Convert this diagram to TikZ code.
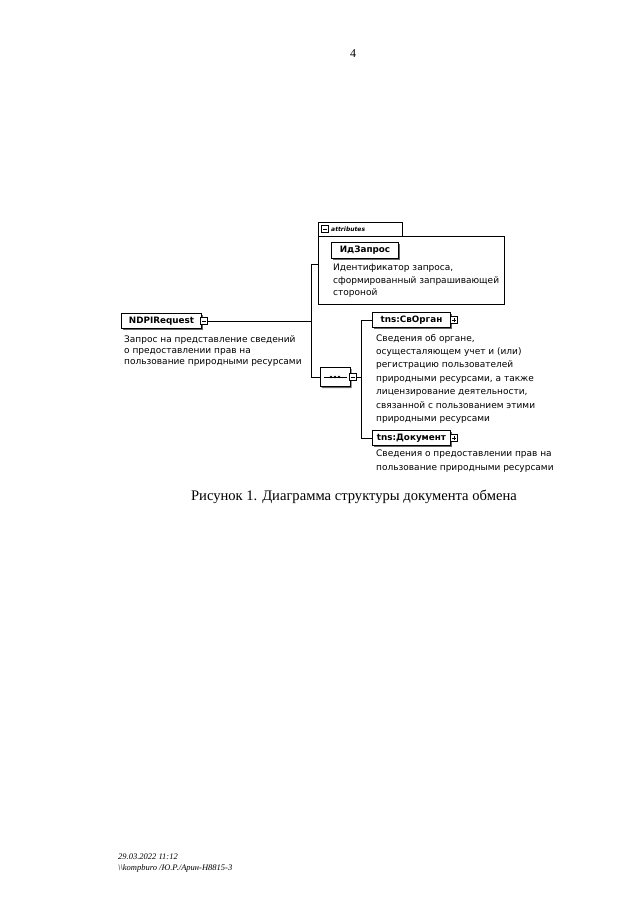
\documentclass[tikz,border=0pt]{standalone}
\usepackage{fontspec}
\setmainfont{Liberation Serif}
\newfontfamily\diag{DejaVu Sans}
\usetikzlibrary{shadows,shapes.misc}
\begin{document}
\begin{tikzpicture}[x=1pt,y=-1pt,
  conn/.style={line width=0.9pt},
  elem/.style={draw, line width=1pt, fill=white, font=\diag\bfseries\fontsize{8.8}{10}\selectfont,
    inner xsep=2pt, minimum height=15pt, anchor=west,
    drop shadow={shadow xshift=1.6pt, shadow yshift=-1.6pt, fill=black!60, opacity=1}},
  pm/.style={draw, fill=white, minimum size=7pt, inner sep=0pt, line width=0.7pt},
  pmminus/.style={pm, path picture={\draw[line width=0.7pt] ([xshift=1.3pt]path picture bounding box.west) -- ([xshift=-1.3pt]path picture bounding box.east);}},
  pmplus/.style={pm, path picture={\draw[line width=0.7pt] ([xshift=1.3pt]path picture bounding box.west) -- ([xshift=-1.3pt]path picture bounding box.east) ([yshift=-1.3pt]path picture bounding box.north) -- ([yshift=1.3pt]path picture bounding box.south);}},
  desc/.style={anchor=north west, inner sep=0pt, align=left, font=\diag\fontsize{9}{13.4}\selectfont},
  descl/.style={desc, font=\diag\fontsize{9}{11.2}\selectfont},
  desca/.style={desc, font=\diag\fontsize{9}{12.4}\selectfont},
  box/.style={draw, line width=0.9pt, anchor=north west, inner sep=0pt}
]
\useasboundingbox (0,0) rectangle (640,905);
\fill[white] (0,0) rectangle (640,905);

% page number
\node[font=\fontsize{12}{14}\selectfont] (pg) at (353,54) {4};

% root element
\node[elem, minimum width=80pt] (req) at (121,321) {NDPIRequest};
\node[pmminus] (reqm) at (204,321) {};
\node[descl] (reqd) at (124,335) {Запрос на представление сведений\\о предоставлении прав на\\пользование природными ресурсами};

% attributes group
\node[box, minimum width=84pt, minimum height=14pt] (atab) at (318,222) {};
\node[box, minimum width=186pt, minimum height=68pt] (abox) at (318,236) {};
\node[pmminus] (atabm) at (325,229) {};
\node[anchor=west, inner sep=0pt, font=\diag\bfseries\itshape\fontsize{6}{7}\selectfont] (atabt) at (331,229) {attributes};
\node[elem, minimum width=67pt, minimum height=16pt] (idz) at (331,250) {ИдЗапрос};
\node[desca] (idzd) at (333,264) {Идентификатор запроса,\\сформированный запрашивающей\\стороной};

% sequence compositor
\node[draw, line width=1pt, fill=white, chamfered rectangle, chamfered rectangle xsep=3pt,
  minimum width=30pt, minimum height=19pt, inner sep=0pt,
  drop shadow={shadow xshift=1.6pt, shadow yshift=-1.6pt, fill=black!60, opacity=1}] (seq) at (335,377) {};
\draw[line width=0.7pt] ([xshift=4pt]seq.west) -- ([xshift=-4pt]seq.east);
\foreach \dx in {-4,0,4} \fill ([xshift=\dx pt]seq.center) circle (1.3pt);
\node[pmminus] (seqm) at (353,377) {};

% children
\node[elem, minimum width=78pt] (org) at (372,320) {tns:СвОрган};
\node[pmplus] (orgp) at (454,320) {};
\node[desc] (orgd) at (376,334) {Сведения об органе,\\осущесталяющем учет и (или)\\регистрацию пользователей\\природными ресурсами, а также\\лицензирование деятельности,\\связанной с пользованием этими\\природными ресурсами};
\node[elem, minimum width=78pt] (doc) at (372,438) {tns:Документ};
\node[pmplus] (docp) at (454,438) {};
\node[desc] (docd) at (376,450) {Сведения о предоставлении прав на\\пользование природными ресурсами};

% connectors
\coordinate (t1) at (311,264);
\coordinate (t2) at (311,377);
\coordinate (s1) at (361,320);
\coordinate (s2) at (361,438);
\draw[conn] (t1) -- (t2);
\draw[conn] (reqm.east) -- (reqm.east -| t1);
\draw[conn] (t1) -- (t1 -| abox.west);
\draw[conn] (t2) -- (seq.west);
\draw[conn] (s1) -- (s2);
\draw[conn] (seqm.east) -- (seqm.east -| s1);
\draw[conn] (s1) -- (org.west);
\draw[conn] (s2) -- (doc.west);

% caption
\node[font=\fontsize{14.6}{16}\selectfont] (cap) at (354,497) {Рисунок 1. Диаграмма структуры документа обмена};

% footer
\node[anchor=west, inner sep=0pt, align=left, font=\itshape\fontsize{8.5}{10.5}\selectfont] (foot) at (118,863) {29.03.2022 11:12\\\textbackslash\textbackslash kompburo /Ю.Р./Арин-Н8815-3};
\end{tikzpicture}
\end{document}
